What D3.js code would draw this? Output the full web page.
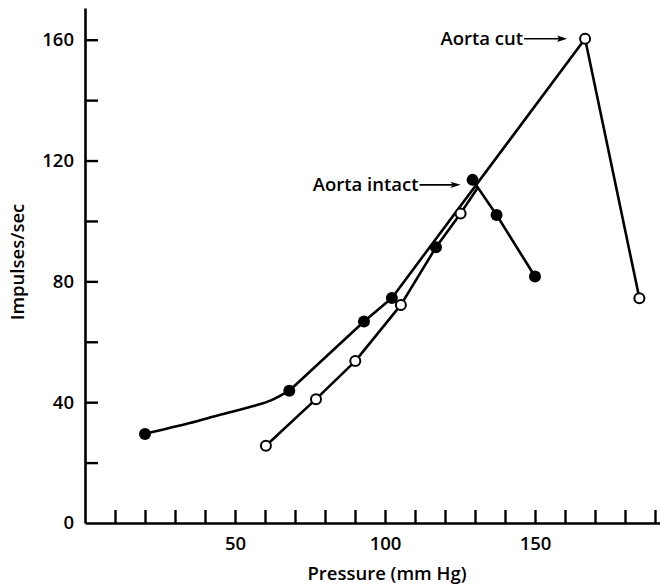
<!DOCTYPE html>
<html><head><meta charset="utf-8">
<script src="https://cdn.jsdelivr.net/npm/d3@7/dist/d3.min.js"></script>
<style>
html,body{margin:0;padding:0;background:#fff;}
svg text{font-family:"Open Sans",Lato,sans-serif;fill:#000;font-weight:600;}
</style></head>
<body><svg id="c" width="660" height="586"></svg>
<script>
// Marker data (pressure mmHg, impulses/sec)
const intactX = [20, 68.1, 93, 102.3, 117, 129.2, 137.2, 150];
const intactY = [29.5, 43.8, 66.7, 74.5, 91.3, 113.6, 102, 81.6];
const cutX = [60.3, 77, 90.1, 105.3, 125.2, 166.7, 184.8];
const cutY = [25.6, 41, 53.6, 72.2, 102.5, 160.3, 74.4];
// Traced curves as drawn in the figure
const upperLineX = [20, 34.6, 45, 56.1, 62, 68.1, 93, 102.3, 166.7, 184.8];
const upperLineY = [29.5, 33, 35.8, 38.7, 40.6, 43.8, 66.7, 74.5, 160.3, 74.4];
const lowerLineX = [60.3, 77, 90.1, 105.3, 117, 125.2, 130.9];
const lowerLineY = [25.6, 41, 53.6, 72.2, 91.3, 102.5, 111];
const tailLineX = [129.2, 137.2, 150];
const tailLineY = [113.6, 102, 81.6];
// Ticks
const xTicks = d3.range(10, 191, 10);
const xLabels = [50, 100, 150];
const yTicks = d3.range(0, 161, 20);
const yLabels = [0, 40, 80, 120, 160];

const FS = 18.5;
const svg = d3.select("#c");
const x = d3.scaleLinear().domain([0, 191.67]).range([85, 660]);
const y = d3.scaleLinear().domain([0, 170.5]).range([523, 8]);

const xAxis = d3.axisBottom(x).tickValues(xTicks).tickSizeInner(-13).tickSizeOuter(0).tickPadding(14)
  .tickFormat(d => xLabels.includes(d) ? d : "");
const gx = svg.append("g").attr("transform", `translate(0,${y(0)})`).call(xAxis);
const yAxis = d3.axisLeft(y).tickValues(yTicks).tickSizeInner(-13).tickSizeOuter(0).tickPadding(11)
  .tickFormat(d => yLabels.includes(d) ? d : "");
const gy = svg.append("g").attr("transform", `translate(${x(0)},0)`).call(yAxis);
[gx, gy].forEach(g => {
  g.select(".domain").attr("stroke", "#000").attr("stroke-width", 2.6);
  g.selectAll(".tick line").attr("stroke", "#000").attr("stroke-width", 2.4);
  g.selectAll(".tick text").attr("font-size", FS).attr("font-family", "'Open Sans', sans-serif")
    .attr("font-weight", 600).attr("fill", "#000");
});
gy.select(".tick line").remove(); // tick at 0 lies on x axis

const zip = (a, b) => a.map((v, i) => [v, b[i]]);
const smooth = d3.line().x(d => x(d[0])).y(d => y(d[1])).curve(d3.curveCatmullRom.alpha(0.5));
const straight = d3.line().x(d => x(d[0])).y(d => y(d[1]));
const up = zip(upperLineX, upperLineY);
const pathStyle = p => p.attr("fill", "none").attr("stroke", "#000").attr("stroke-width", 2.6)
  .attr("stroke-linejoin", "round").attr("stroke-linecap", "round");
svg.append("path").attr("d", smooth(up.slice(0, 6))).call(pathStyle);
svg.append("path").attr("d", straight(up.slice(5))).call(pathStyle);
[[lowerLineX, lowerLineY], [tailLineX, tailLineY]].forEach(([a, b]) => {
  svg.append("path").attr("d", straight(zip(a, b))).call(pathStyle);
});

svg.selectAll("circle.intact").data(zip(intactX, intactY)).join("circle")
  .attr("cx", d => x(d[0])).attr("cy", d => y(d[1])).attr("r", 6).attr("fill", "#000");
svg.selectAll("circle.cut").data(zip(cutX, cutY)).join("circle")
  .attr("cx", d => x(d[0])).attr("cy", d => y(d[1])).attr("r", 5).attr("fill", "#fff")
  .attr("stroke", "#000").attr("stroke-width", 2);

// annotations
function arrowLabel(text, tipX, tipY, len) {
  const x0 = tipX - len;
  svg.append("line").attr("x1", x0).attr("y1", tipY).attr("x2", tipX - 4).attr("y2", tipY)
    .attr("stroke", "#000").attr("stroke-width", 1.6);
  svg.append("path").attr("d", `M${tipX},${tipY} L${tipX - 10},${tipY - 3.2} L${tipX - 8},${tipY} L${tipX - 10},${tipY + 3.2} Z`)
    .attr("fill", "#000");
  svg.append("text").attr("x", x0 - 1).attr("y", tipY + 6.5).attr("text-anchor", "end")
    .attr("font-size", FS).text(text);
}
arrowLabel("Aorta cut", x(cutX[5]) - 18, y(cutY[5]), 43);
arrowLabel("Aorta intact", x(intactX[5]) - 12, y(intactY[5]) + 5, 41);

svg.append("text").attr("x", 387).attr("y", 580).attr("text-anchor", "middle")
  .attr("font-size", FS).text("Pressure (mm Hg)");
svg.append("text").attr("transform", "translate(24,262) rotate(-90)").attr("text-anchor", "middle")
  .attr("font-size", FS).text("Impulses/sec");
</script></body></html>
